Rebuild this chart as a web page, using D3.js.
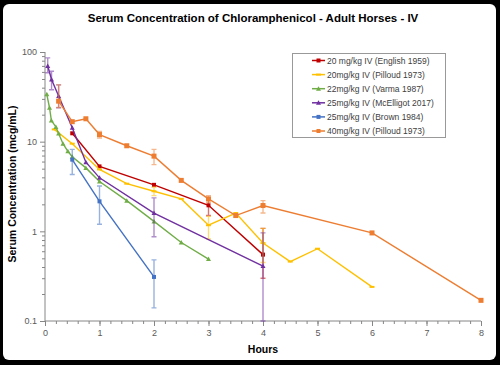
<!DOCTYPE html>
<html><head><meta charset="utf-8">
<script src="https://cdn.jsdelivr.net/npm/d3@7"></script>
<style>body{margin:0;background:#fff}svg{display:block}text{font-family:"Liberation Sans",Arial,sans-serif}</style>
</head><body><svg id="c" width="500" height="365"></svg>
<script>
const title = "Serum Concentration of Chloramphenicol - Adult Horses - IV";
const xLabel = "Hours";
const yLabel = "Serum Concentration (mcg/mL)";
const xTicks = [0,1,2,3,4,5,6,7,8];
const yTicks = [0.1,1,10,100];
const seriesNames = ["20 mg/kg IV (English 1959)","20mg/kg IV (Pilloud 1973)","22mg/kg IV (Varma 1987)","25mg/kg IV (McElligot 2017)","25mg/kg IV (Brown 1984)","40mg/kg IV (Pilloud 1973)"];
const seriesColors = ["#C00000","#FFC000","#70AD47","#7030A0","#4472C4","#ED7D31"];
const seriesMarkers = ["square","dash","triangle","triangle","square","square"];

const englishT = [0.5,1,2,3,4];
const englishV = [12.4,5.3,3.3,1.95,0.55];
const englishLo = [null,null,null,1.5,0.3];
const englishHi = [null,null,null,2.25,1.08];

const pilloud20T = [0.17,0.5,1,1.5,2,2.5,3,3.5,4,4.5,5,6];
const pilloud20V = [13.7,9.5,4.9,3.4,2.8,2.3,1.17,1.6,0.74,0.46,0.64,0.24];
const pilloud20Lo = [null,null,null,null,2.5,null,0.82,null,0.45,null,null,null];
const pilloud20Hi = [null,null,null,null,3.1,null,1.47,null,1.08,null,null,null];

const varmaT = [0.033,0.083,0.117,0.2,0.25,0.33,0.42,0.5,0.75,1,1.5,2,2.5,3];
const varmaV = [33.7,23.9,17.2,14.6,12.3,9.5,7.8,6.8,5.1,3.6,2.2,1.29,0.75,0.49];

const mcelligotT = [0.05,0.12,0.25,0.5,0.75,1,2,4];
const mcelligotV = [69.7,49.3,32.3,14.3,5.9,3.95,1.6,0.41];
const mcelligotLo = [58.7,38,23.9,null,null,null,0.87,0.1];
const mcelligotHi = [86,61,43,null,null,null,2.36,0.96];

const brownT = [0.5,1,2];
const brownV = [6.3,2.16,0.31];
const brownLo = [4.3,1.2,0.14];
const brownHi = [8.2,3.2,0.48];

const pilloud40T = [0.25,0.5,0.75,1,1.5,2,2.5,3,3.5,4,6,8];
const pilloud40V = [28.3,16.7,18,12,9,6.9,3.7,2.3,1.5,1.94,0.96,0.17];
const pilloud40Lo = [24,null,null,11,null,5.55,null,2.1,null,1.6,null,null];
const pilloud40Hi = [43,null,null,13,null,8.2,null,2.5,null,2.2,null,null];

const seriesData = [
  [englishT,englishV,englishLo,englishHi],
  [pilloud20T,pilloud20V,pilloud20Lo,pilloud20Hi],
  [varmaT,varmaV,null,null],
  [mcelligotT,mcelligotV,mcelligotLo,mcelligotHi],
  [brownT,brownV,brownLo,brownHi],
  [pilloud40T,pilloud40V,pilloud40Lo,pilloud40Hi]
];

const svg = d3.select("#c");
svg.append("rect").attr("width",500).attr("height",365).attr("fill","#000");
svg.append("rect").attr("x",3).attr("y",4).attr("width",493).attr("height",356).attr("rx",6).attr("fill","#fff");

const x = d3.scaleLinear().domain([0,8]).range([45,481]);
const y = d3.scaleLog().domain([0.1,100]).range([321,52]);
const axisCol = "#868686", textCol = "#595959";

svg.append("text").attr("x",253).attr("y",22).attr("text-anchor","middle")
  .attr("font-size",11.5).attr("font-weight","bold").attr("fill","#000").text(title);

// y axis
const yMinor = [];
for (let d=0.1; d<100; d*=10) for (let k=2;k<=9;k++) yMinor.push(+(d*k).toPrecision(3));
const gy = svg.append("g").attr("transform","translate(45,0)");
gy.call(d3.axisLeft(y).tickValues(yMinor).tickSize(3).tickFormat(""));
gy.call(g=>g.select(".domain").remove());
const gy2 = svg.append("g").attr("transform","translate(45,0)");
gy2.call(d3.axisLeft(y).tickValues(yTicks).tickSize(5).tickPadding(3).tickFormat(d=>String(d)));
gy2.select(".domain").attr("stroke",axisCol).attr("d","M0,321V52");
gy2.selectAll("text").attr("font-size",9).attr("fill",textCol).attr("font-family","Liberation Sans, Arial");

// x axis
const xMinor = d3.range(0,40.5).map(i=>i/5);
const gx = svg.append("g").attr("transform","translate(0,321)");
gx.call(d3.axisBottom(x).tickValues(xMinor).tickSize(3).tickFormat(""));
gx.call(g=>g.select(".domain").remove());
const gx2 = svg.append("g").attr("transform","translate(0,321)");
gx2.call(d3.axisBottom(x).tickValues(xTicks).tickSize(5).tickPadding(4).tickFormat(d3.format("d")));
gx2.select(".domain").attr("stroke",axisCol).attr("d","M45,0H481");
gx2.selectAll("text").attr("font-size",9).attr("fill",textCol).attr("font-family","Liberation Sans, Arial");
svg.selectAll(".tick line").attr("stroke",axisCol);

svg.append("text").attr("x",263).attr("y",353).attr("text-anchor","middle")
  .attr("font-size",10.5).attr("font-weight","bold").text(xLabel);
svg.append("text").attr("transform","translate(16,184) rotate(-90)").attr("text-anchor","middle")
  .attr("font-size",10.5).attr("font-weight","bold").text(yLabel);

function marker(g, type, cx, cy, col, big){
  if (type==="square"){
    const s = big?5:4;
    g.append("rect").attr("x",cx-s/2).attr("y",cy-s/2).attr("width",s).attr("height",s).attr("fill",col);
  } else if (type==="triangle"){
    g.append("path").attr("d",`M${cx},${cy-2.5}L${cx+2.5},${cy+2}L${cx-2.5},${cy+2}Z`).attr("fill",col);
  } else {
    g.append("rect").attr("x",cx-2.5).attr("y",cy-1).attr("width",5).attr("height",2).attr("fill",col);
  }
}

const yc = v => y(Math.max(0.1, Math.min(100, v)));
const line = d3.line().x(d=>x(d[0])).y(d=>y(d[1]));
seriesData.forEach((s,i)=>{
  const [T,V,Lo,Hi] = s;
  const col = seriesColors[i];
  const g = svg.append("g");
  if (Lo){
    T.forEach((t,j)=>{
      if (Lo[j]==null) return;
      const xx = x(t);
      g.append("path").attr("d",`M${xx},${yc(Hi[j])}V${yc(Lo[j])}M${xx-2.5},${yc(Hi[j])}H${xx+2.5}M${xx-2.5},${yc(Lo[j])}H${xx+2.5}`)
        .attr("stroke",col).attr("stroke-opacity",0.55).attr("stroke-width",1.4).attr("fill","none");
    });
  }
  const pts = T.map((t,j)=>[t,V[j]]);
  g.append("path").attr("d",line(pts)).attr("stroke",col).attr("stroke-width",1.4).attr("fill","none");
  pts.forEach(p=>marker(g, seriesMarkers[i], x(p[0]), y(p[1]), col, i===5));
});

// legend
const lg = svg.append("g");
lg.append("rect").attr("x",292.5).attr("y",53.5).attr("width",153).attr("height",84).attr("fill","#fff").attr("stroke","#999").attr("stroke-width",1);
seriesNames.forEach((n,i)=>{
  const ly = 60.5 + i*14.1;
  lg.append("line").attr("x1",312).attr("x2",325).attr("y1",ly).attr("y2",ly).attr("stroke",seriesColors[i]).attr("stroke-width",1.5);
  marker(lg, seriesMarkers[i], 318.5, ly, seriesColors[i], false);
  lg.append("text").attr("x",327).attr("y",ly+3).attr("font-size",8.5).attr("fill","#404040").text(n);
});
</script></body></html>
